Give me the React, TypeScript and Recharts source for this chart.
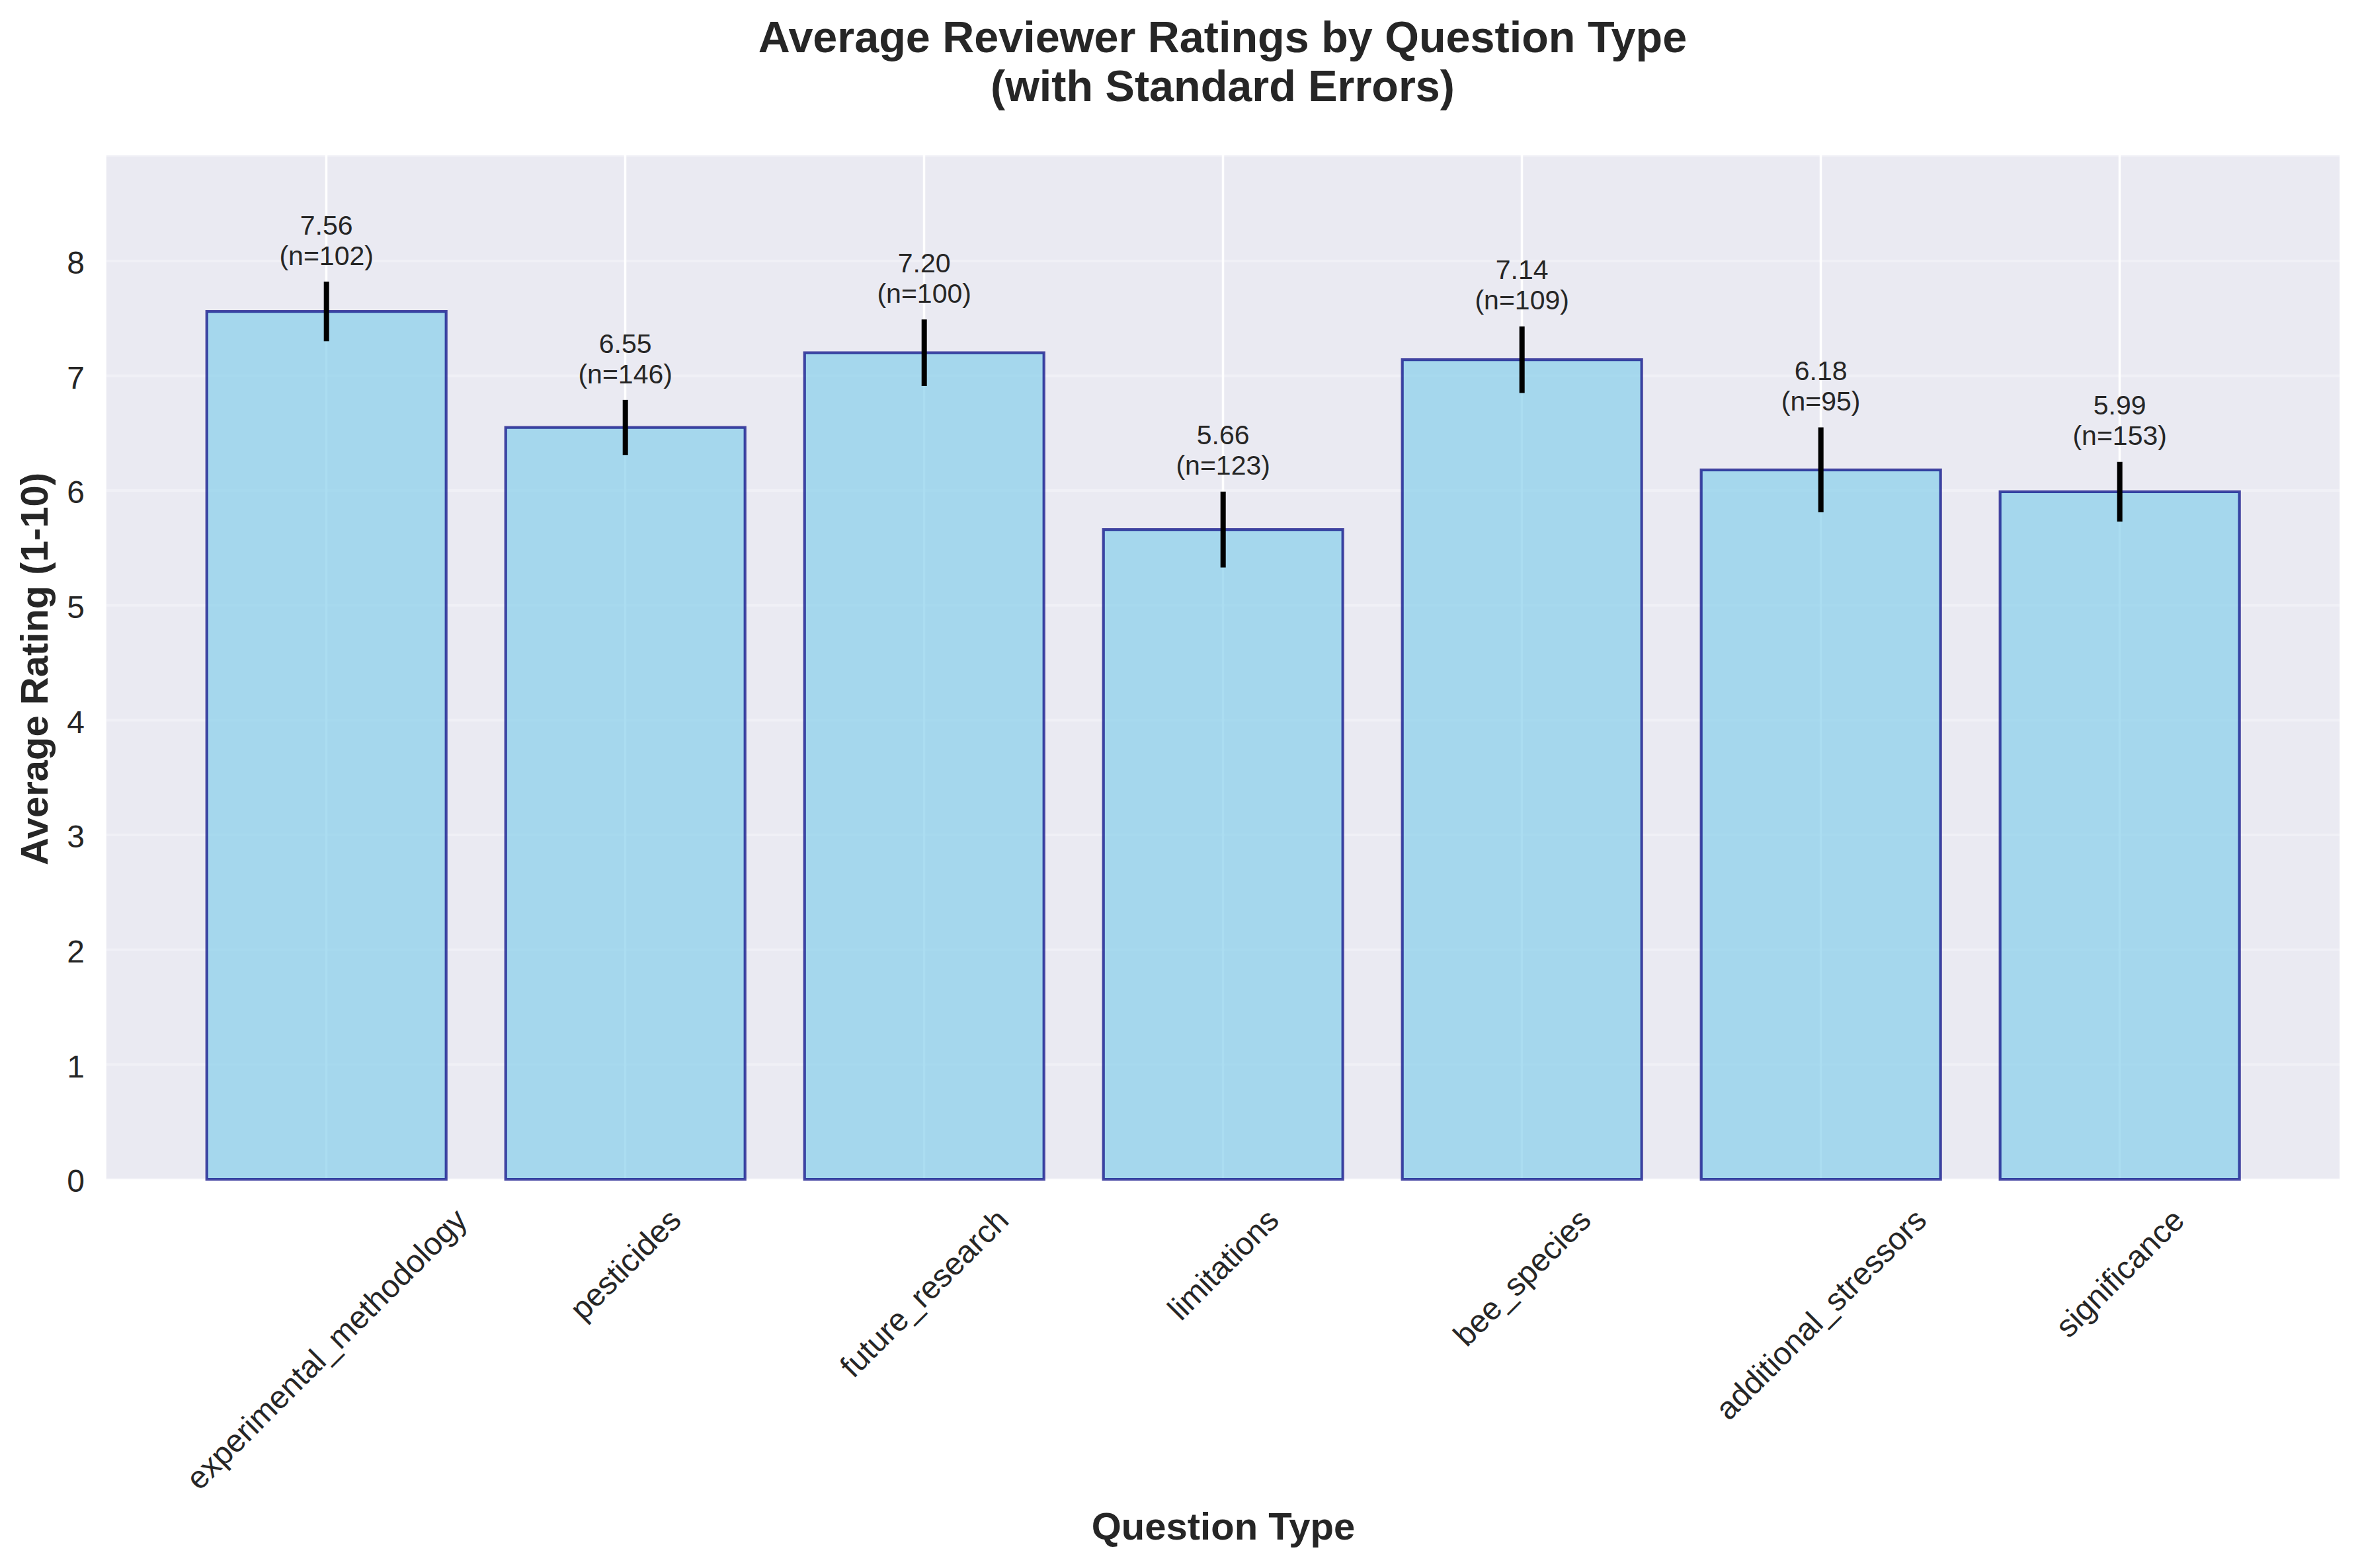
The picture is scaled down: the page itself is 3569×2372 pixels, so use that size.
import React from 'react';
import { BarChart, Bar, XAxis, YAxis, CartesianGrid, ErrorBar, LabelList } from 'recharts';

const categories = [
  'experimental_methodology',
  'pesticides',
  'future_research',
  'limitations',
  'bee_species',
  'additional_stressors',
  'significance',
];
const meanRatings = [7.56, 6.55, 7.2, 5.66, 7.14, 6.18, 5.99];
const stdErrors = [0.26, 0.24, 0.29, 0.33, 0.29, 0.37, 0.26];
const counts = [102, 146, 100, 123, 109, 95, 153];
const yTicks = [0, 1, 2, 3, 4, 5, 6, 7, 8];

const W = 3569;
const H = 2372;
const FONT = '"Liberation Sans", Arial, Helvetica, sans-serif';
const TEXT = '#262626';

const data = categories.map((name, i) => ({
  name,
  mean: meanRatings[i],
  err: stdErrors[i],
  n: counts[i],
}));

// measure text width so rotated tick labels can be centred like matplotlib does
let ctx: CanvasRenderingContext2D | null = null;
const measure = (text: string, size: number) => {
  if (!ctx) ctx = document.createElement('canvas').getContext('2d');
  if (!ctx) return text.length * size * 0.5;
  ctx.font = `${size}px "Liberation Sans", Arial`;
  return ctx.measureText(text).width;
};

const XTick = ({ x, y, payload }: any) => {
  const size = 48;
  const w = measure(String(payload.value), size);
  const cy = y + 0.7071 * (w / 2 + 0.38 * size);
  return (
    <text
      x={x}
      y={cy}
      dy="0.35em"
      textAnchor="middle"
      transform={`rotate(-45, ${x}, ${cy})`}
      fontFamily={FONT}
      fontSize={size}
      fill={TEXT}
    >
      {payload.value}
    </text>
  );
};

const YTick = ({ x, y, payload }: any) => (
  <text x={x} y={y} dy="0.4em" textAnchor="end" fontFamily={FONT} fontSize={48} fill={TEXT}>
    {payload.value}
  </text>
);

const ValueLabel = (props: any) => {
  const { x, y, width, height, value, index } = props;
  const pxPerUnit = height / value;
  const errTop = y - stdErrors[index] * pxPerUnit;
  const bottom = errTop - 0.1 * pxPerUnit;
  const cx = x + width / 2;
  const base2 = bottom - 8;
  return (
    <g>
      <text x={cx} y={base2 - 46} textAnchor="middle" fontFamily={FONT} fontSize={41} fill={TEXT}>
        {Number(value).toFixed(2)}
      </text>
      <text x={cx} y={base2} textAnchor="middle" fontFamily={FONT} fontSize={41} fill={TEXT}>
        {`(n=${counts[index]})`}
      </text>
    </g>
  );
};

export default function App() {
  return (
    <div style={{ position: 'absolute', left: 0, top: 0, width: W, height: H, background: '#fff' }}>
      <BarChart
        width={W}
        height={H}
        data={data}
        margin={{ top: 235, right: 29, left: 9, bottom: 0 }}
        barCategoryGap="10%"
      >
        <CartesianGrid
          vertical={false}
          fill="#EAEAF2"
          stroke="#FFFFFF"
          strokeOpacity={0.3}
          strokeWidth={4}
        />
        <CartesianGrid horizontal={false} stroke="#FFFFFF" strokeWidth={3.5} />
        <XAxis
          dataKey="name"
          type="category"
          height={588}
          padding={{ left: 108.5, right: 108.5 }}
          axisLine={false}
          tickLine={false}
          tickSize={0}
          tickMargin={40}
          interval={0}
          tick={<XTick />}
        />
        <YAxis
          type="number"
          width={150}
          domain={[0, 8.92]}
          ticks={yTicks}
          axisLine={false}
          tickLine={false}
          tickSize={0}
          tickMargin={31}
          tick={<YTick />}
        />
        <Bar
          dataKey="mean"
          fill="#87CEEB"
          fillOpacity={0.7}
          stroke="#000080"
          strokeOpacity={0.7}
          strokeWidth={4.2}
          isAnimationActive={false}
        >
          <ErrorBar dataKey="err" width={0} stroke="#000000" strokeWidth={8} direction="y" isAnimationActive={false} />
          <LabelList dataKey="mean" content={<ValueLabel />} />
        </Bar>
      </BarChart>
      <svg
        width={W}
        height={H}
        style={{ position: 'absolute', left: 0, top: 0, pointerEvents: 'none' }}
      >
        <text x={1849} y={79} textAnchor="middle" fontFamily={FONT} fontWeight="bold" fontSize={66.5} fill={TEXT}>
          Average Reviewer Ratings by Question Type
        </text>
        <text x={1849} y={153} textAnchor="middle" fontFamily={FONT} fontWeight="bold" fontSize={66.5} fill={TEXT}>
          (with Standard Errors)
        </text>
        <text x={1850} y={2329} textAnchor="middle" fontFamily={FONT} fontWeight="bold" fontSize={58} fill={TEXT}>
          Question Type
        </text>
        <text
          x={72}
          y={1012}
          textAnchor="middle"
          transform="rotate(-90, 72, 1012)"
          fontFamily={FONT}
          fontWeight="bold"
          fontSize={58}
          fill={TEXT}
        >
          Average Rating (1-10)
        </text>
      </svg>
    </div>
  );
}
